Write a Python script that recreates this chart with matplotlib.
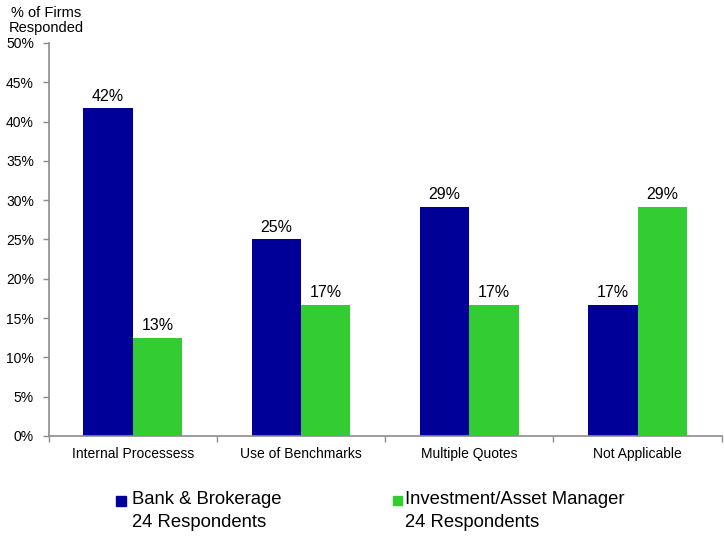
import numpy as np
import matplotlib.pyplot as plt
from matplotlib.patches import Rectangle
from matplotlib.ticker import FixedLocator, PercentFormatter

plt.rcParams['font.family'] = ['Liberation Sans', 'DejaVu Sans']

categories = ["Internal Processess", "Use of Benchmarks", "Multiple Quotes", "Not Applicable"]
respondents = 24
# firms answering each option, out of 24 per group
bank_counts = [10, 6, 7, 4]
invest_counts = [3, 4, 4, 7]

bank_pct = np.array(bank_counts) / respondents * 100
invest_pct = np.array(invest_counts) / respondents * 100

blue = "#000099"
green = "#33CC33"
grey = "#8c8c8c"

fig = plt.figure(figsize=(7.24, 5.36), dpi=100)
ax = fig.add_axes([0.067, 0.1866, 0.93, 0.7334])

x = np.arange(len(categories)) + 0.5
w = 0.293
b1 = ax.bar(x - w / 2, bank_pct, w, color=blue)
b2 = ax.bar(x + w / 2, invest_pct, w, color=green)

for bars, vals in [(b1, bank_pct), (b2, invest_pct)]:
    for r, v in zip(bars, vals):
        # round half up, 12.5 -> 13
        ax.annotate(f"{int(np.floor(v + 0.5))}%", (r.get_x() + r.get_width() / 2, v),
                    xytext=(0, 3.5), textcoords="offset points",
                    ha="center", va="bottom", fontsize=11.5)

ax.set_xlim(0, len(categories))
ax.set_ylim(0, 50)
ax.set_yticks(np.arange(0, 51, 5))
ax.yaxis.set_major_formatter(PercentFormatter(decimals=0))

# boundaries get tick marks, centres get the labels
ax.xaxis.set_major_locator(FixedLocator(np.arange(len(categories) + 1)))
ax.xaxis.set_minor_locator(FixedLocator(x))
ax.set_xticklabels([])
ax.set_xticklabels(categories, minor=True)
ax.tick_params(axis="x", which="major", length=4, width=1, color=grey)
ax.tick_params(axis="x", which="minor", length=0, pad=8, labelsize=10)
ax.tick_params(axis="y", length=4.5, width=1, color=grey, pad=6, labelsize=10)

for s in ["top", "right"]:
    ax.spines[s].set_visible(False)
for s in ["left", "bottom"]:
    ax.spines[s].set_color(grey)
    ax.spines[s].set_linewidth(1.2)

fig.text(0.064, 0.962, "% of Firms\nResponded", ha="center", va="center",
         fontsize=10.5, linespacing=1.1)

# legend
fig.add_artist(Rectangle((116 / 724, 1 - 506 / 536), 10 / 724, 10 / 536,
                         transform=fig.transFigure, color=blue))
fig.text(132 / 724, 1 - 491 / 536, "Bank & Brokerage\n24 Respondents",
         ha="left", va="top", fontsize=13.3, linespacing=1.45)
fig.add_artist(Rectangle((393 / 724, 1 - 505 / 536), 9 / 724, 9 / 536,
                         transform=fig.transFigure, color=green))
fig.text(405 / 724, 1 - 491 / 536, "Investment/Asset Manager\n24 Respondents",
         ha="left", va="top", fontsize=13.3, linespacing=1.45)

fig.savefig("out.png", dpi=100)
